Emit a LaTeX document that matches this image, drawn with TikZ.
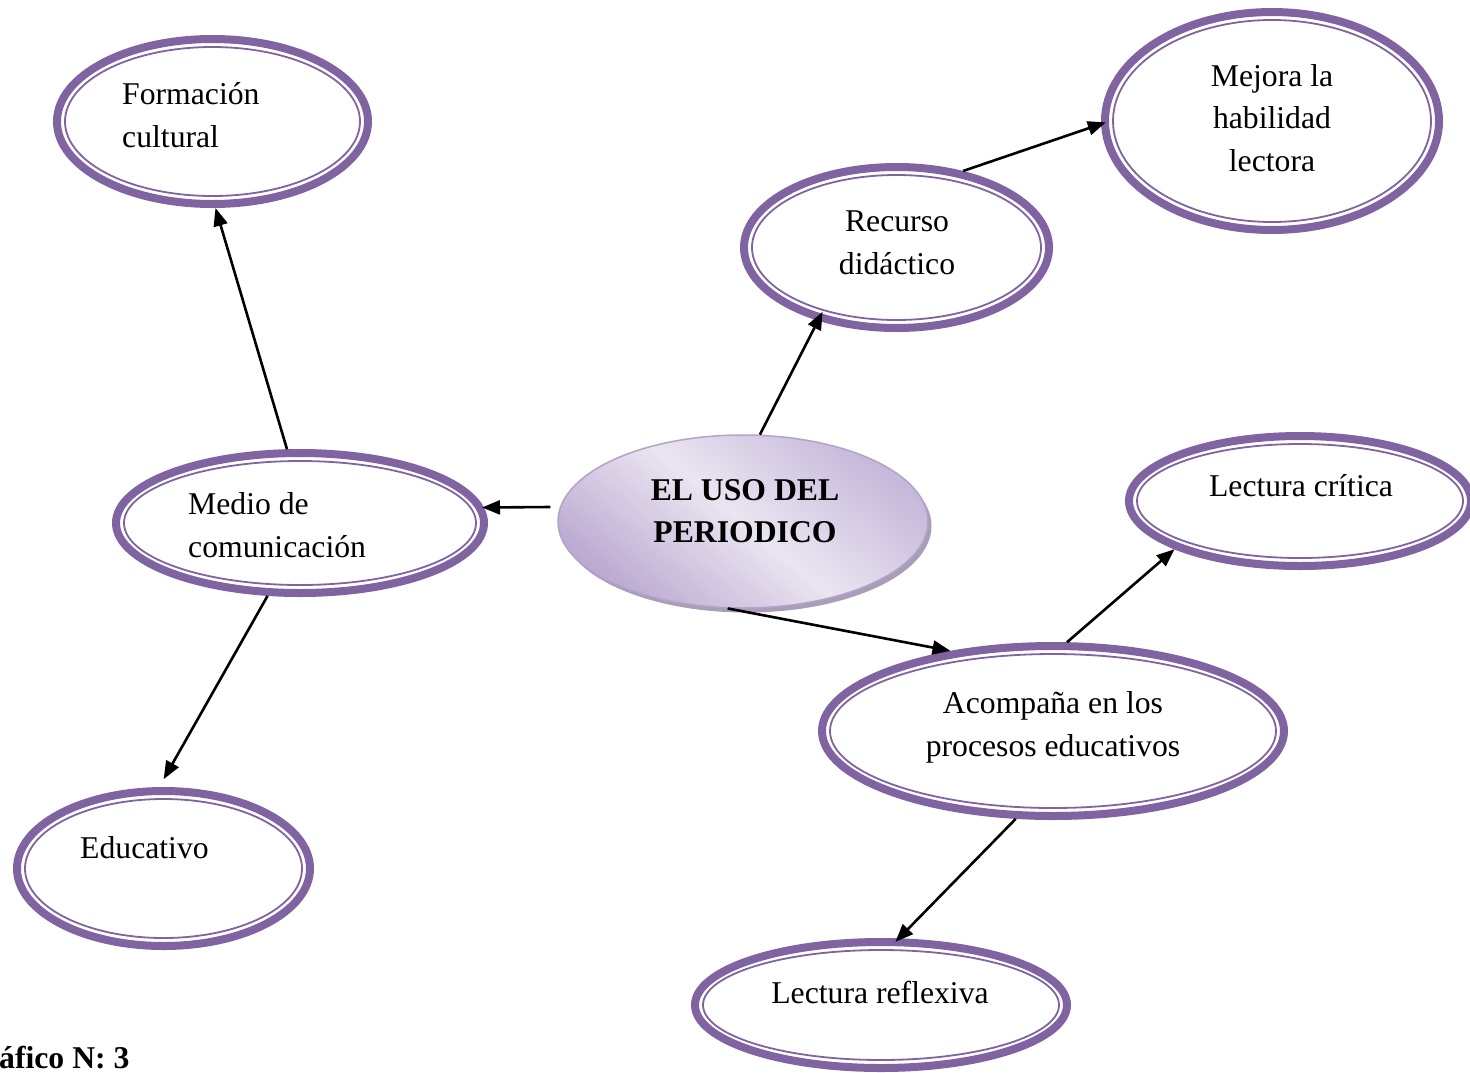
\documentclass[tikz,border=0pt]{standalone}
\usepackage{fontspec}
\setmainfont{Liberation Serif}
\usetikzlibrary{shapes.geometric,arrows.meta,calc,shadows}
\definecolor{ringc}{HTML}{8064A2}
\definecolor{cenlight}{HTML}{EAE5F1}
\definecolor{cendarkA}{HTML}{C6B8DA}
\definecolor{cendarkB}{HTML}{BCAAD1}
\definecolor{cenborder}{HTML}{B3A2CA}
\definecolor{censhadow}{HTML}{A99DB7}
\begin{document}
\begin{tikzpicture}[x=1pt,y=-1pt,
  ring/.style={ellipse, draw=ringc, line width=8pt, fill=white, inner sep=0pt},
  innerring/.style={draw=ringc, line width=1.8pt},
  lbl/.style={font=\fontsize{31.7}{42.5}\selectfont, inner sep=0pt},
  boldlbl/.style={font=\fontsize{31.7}{41.5}\selectfont\bfseries, inner sep=0pt},
  arr/.style={line width=2.6pt, -{Triangle[length=18pt,width=14pt]}},
  centre/.style={ellipse, inner sep=0pt, draw=cenborder, line width=1.5pt,
    top color=cendarkA, bottom color=cendarkB, middle color=cenlight, shading angle=-40,
    drop shadow={shadow xshift=3.5pt, shadow yshift=-4.5pt, fill=censhadow, opacity=1}},
]
\useasboundingbox (0,0) rectangle (1470,1072);

% ringed ellipses: name / centre x / centre y / outer x radius / outer y radius
\foreach \n/\cx/\cy/\a/\b in {
  form/212.5/121.5/159.5/86.5,
  recurso/896.5/247.5/156.5/84.5,
  mejora/1272/121/171/113,
  medio/300/523/188/74,
  critica/1300/501/175/69,
  acomp/1053/731/235/89,
  educ/163.5/868.5/150.5/81.5,
  reflex/881/1005/190/67}{
  \node[ring, minimum width={(2*\a-8)*1pt}, minimum height={(2*\b-8)*1pt}] (\n) at (\cx,\cy) {};
  \draw[innerring] (\n.center) ellipse [x radius={(\a-12)*1pt}, y radius={(\b-12)*1pt}];
}

\node[centre, minimum width=370pt, minimum height=173pt] (central) at (743,521.5) {};

% labels (base = baseline of the last line)
\node[lbl, anchor=base west, align=left] (tform) at (122,147) {Formación\\cultural};
\node[lbl, anchor=base, align=center] (trecurso) at (897,274) {Recurso\\didáctico};
\node[lbl, anchor=base, align=center] (tmejora) at (1272,171) {Mejora la\\habilidad\\lectora};
\node[lbl, anchor=base west, align=left] (tmedio) at (188,557) {Medio de\\comunicación};
\node[boldlbl, anchor=base, align=center] (tcentral) at (745,542) {EL USO DEL\\PERIODICO};
\node[lbl, anchor=base] (tcritica) at (1301,496) {Lectura crítica};
\node[lbl, anchor=base, align=center] (tacomp) at (1053,756) {Acompaña en los\\procesos educativos};
\node[lbl, anchor=base west] (teduc) at (80,858) {Educativo};
\node[lbl, anchor=base] (treflex) at (880,1003) {Lectura reflexiva};
\node[boldlbl, anchor=base west] (caption) at (-1,1068) {áfico N: 3};

% connectors
\draw[arr] (medio.100) -- (form.-88);
\draw[arr] ($(central.west)+(-7,-14.5)$) -- ($(medio.east)+(-6,-15.5)$);
\draw[arr, shorten >=-10pt] (central.79.3) -- (recurso.-137.9);
\draw[arr, shorten >=-5pt] (recurso.49.25) -- (mejora.181.7);
\draw[arr] (central.-100.2) -- (acomp.142.5);
\draw[arr] (acomp.81.9) -- (critica.201.4);
\draw[arr, shorten >=9pt] (medio.-114.5) -- (educ.93.2);
\draw[arr, shorten >=-5pt] (acomp.-113.5) -- (reflex.75.5);
\end{tikzpicture}
\end{document}
